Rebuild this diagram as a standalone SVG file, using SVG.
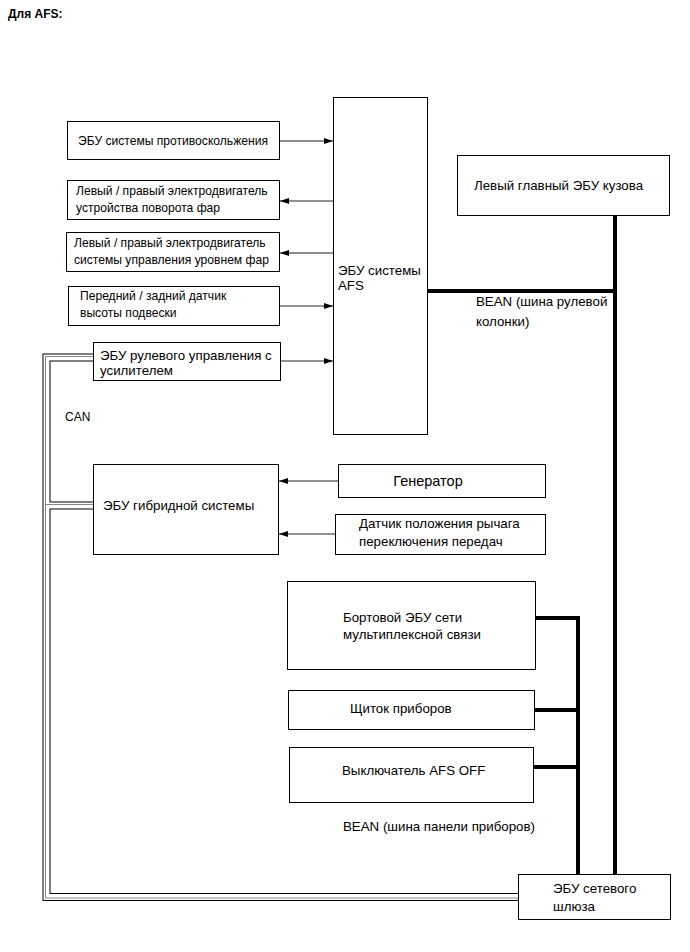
<svg xmlns="http://www.w3.org/2000/svg" width="690" height="952" viewBox="0 0 690 952">
<style>
text{font-family:"Liberation Sans",Arial,sans-serif;font-size:13.3px;fill:#000}
.sm{font-size:12.1px}
.box{fill:#fff;stroke:#000;stroke-width:1}
.ln{fill:none;stroke:#222;stroke-width:1}
.bean{fill:none;stroke:#000;stroke-width:4}
.canb{fill:none;stroke:#000;stroke-width:8}
.canw{fill:none;stroke:#fff;stroke-width:6}
.cang{fill:none;stroke:#888;stroke-width:1}
</style>
<defs>
<marker id="ah" markerWidth="10" markerHeight="8" refX="9" refY="4" orient="auto" markerUnits="userSpaceOnUse">
<path d="M0,1 L9,4 L0,7 Z" fill="#000"/>
</marker>
</defs>
<rect width="690" height="952" fill="#fff"/>
<text x="8" y="18" style="font-weight:bold;font-size:12px">Для AFS:</text>

<g id="connectors">
<path class="canb" d="M93,357.5 H46.5 V897 H518 M46.5,505.5 H93"/>
<path class="canw" d="M93,357.5 H46.5 V897 H518 M46.5,505.5 H93"/>
<path class="cang" d="M93,356.5 H45.5 V898 H518 M45.5,504.5 H93"/>
<path class="ln" d="M280,141 H333" marker-end="url(#ah)"/>
<path class="ln" d="M333,201 H280" marker-end="url(#ah)"/>
<path class="ln" d="M333,253 H280" marker-end="url(#ah)"/>
<path class="ln" d="M280,306 H333" marker-end="url(#ah)"/>
<path class="ln" d="M281,361 H333" marker-end="url(#ah)"/>
<path class="ln" d="M338,481 H279" marker-end="url(#ah)"/>
<path class="ln" d="M335,534 H279" marker-end="url(#ah)"/>
<path class="bean" d="M428,291 H615 M615,216 V874"/>
<path class="bean" d="M536,618 H578 V874 M535,710 H578 M534,767 H578"/>
</g>

<g id="afs-ecu"><rect class="box" x="333.5" y="97.5" width="94" height="337"/>
<text x="338" y="275">ЭБУ системы</text><text x="338" y="290">AFS</text></g>

<g id="anti-skid"><rect class="box" x="67.5" y="121.5" width="212" height="38"/>
<text class="sm" x="173" y="145" text-anchor="middle">ЭБУ системы противоскольжения</text></g>

<g id="swivel-motor"><rect class="box" x="67.5" y="180.5" width="212" height="39"/>
<text class="sm" x="76" y="195">Левый / правый электродвигатель</text><text class="sm" x="76" y="212">устройства поворота фар</text></g>

<g id="leveling-motor"><rect class="box" x="66.5" y="232.5" width="213" height="39"/>
<text class="sm" x="74" y="247">Левый / правый электродвигатель</text><text class="sm" x="74" y="264">системы управления уровнем фар</text></g>

<g id="height-sensor"><rect class="box" x="68.5" y="286.5" width="211" height="39"/>
<text class="sm" x="80" y="300">Передний / задний датчик</text><text class="sm" x="80" y="317">высоты подвески</text></g>

<g id="eps-ecu"><rect class="box" x="93.5" y="342.5" width="187" height="38"/>
<text x="100" y="360">ЭБУ рулевого управления с</text><text x="100" y="375">усилителем</text></g>

<text x="65" y="421" style="font-size:12px">CAN</text>

<g id="hybrid-ecu"><rect class="box" x="93.5" y="464.5" width="185" height="90"/>
<text x="103" y="510">ЭБУ гибридной системы</text></g>

<g id="generator"><rect class="box" x="338.5" y="464.5" width="207" height="33"/>
<text x="428" y="486" text-anchor="middle" style="font-size:14.5px">Генератор</text></g>

<g id="shift-sensor"><rect class="box" x="335.5" y="514.5" width="210" height="40"/>
<text x="359" y="528">Датчик положения рычага</text><text x="359" y="546">переключения передач</text></g>

<g id="body-ecu"><rect class="box" x="457.5" y="155.5" width="212" height="60"/>
<text x="474" y="190">Левый главный ЭБУ кузова</text></g>

<text x="476" y="306">BEAN (шина рулевой</text><text x="476" y="326">колонки)</text>

<g id="multiplex-ecu"><rect class="box" x="287.5" y="581.5" width="248" height="88"/>
<text x="343" y="622">Бортовой ЭБУ сети</text><text x="343" y="639">мультиплексной связи</text></g>

<g id="meter"><rect class="box" x="288.5" y="690.5" width="246" height="39"/>
<text x="350" y="713">Щиток приборов</text></g>

<g id="afs-off-switch"><rect class="box" x="289.5" y="747.5" width="244" height="55"/>
<text x="342" y="775">Выключатель AFS OFF</text></g>

<text x="343" y="831">BEAN (шина панели приборов)</text>

<g id="gateway-ecu"><rect class="box" x="518.5" y="874.5" width="152" height="45"/>
<text x="553" y="893">ЭБУ сетевого</text><text x="553" y="911">шлюза</text></g>
</svg>
